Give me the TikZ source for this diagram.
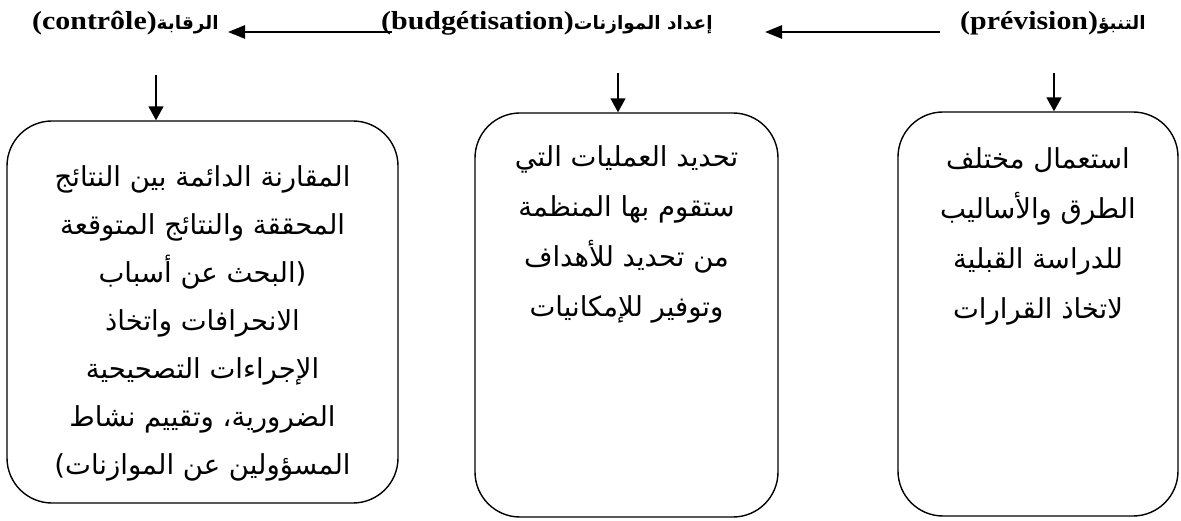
\documentclass[tikz,border=0pt]{standalone}
\usepackage{fontspec}
\setmainfont{Liberation Serif}
\newfontfamily\headfont[FakeStretch=1.15]{Liberation Serif}
\newfontfamily\arabicfont[Script=Arabic]{DejaVu Sans}
\TeXXeTstate=1
\usetikzlibrary{arrows.meta}

\tikzset{
  stagebox/.style={draw, line width=1.4pt, rounded corners=45pt, inner sep=0pt},
  stagetext/.style={anchor=north, inner sep=0pt, align=center,
    font=\arabicfont\fontsize{27.5}{48}\selectfont},
  heading/.style={anchor=base west, inner sep=0pt,
    font=\headfont\bfseries\fontsize{26}{30}\selectfont},
  flowarrow/.style={line width=2.6pt, -{Triangle[length=17pt,width=13pt]}},
  downarrow/.style={line width=1.5pt, -{Triangle[length=14pt,width=15pt]}},
}
\newcommand{\arhead}[1]{{\arabicfont\bfseries\fontsize{18.5}{20}\selectfont\beginR #1\endR}}
\newcommand{\rl}[1]{\beginR #1\endR}

\begin{document}
\begin{tikzpicture}[x=1pt, y=-1pt]
  \useasboundingbox (0,0) rectangle (1181,521);

  % stage headings along the top
  \node[heading] (hL) at (32,30) {(contrôle)\arhead{الرقابة}};
  \node[heading] (hM) at (381,30) {(budgétisation)\arhead{إعداد الموازنات}};
  \node[heading] (hR) at (960,30) {(prévision)\arhead{التنبؤ}};

  % the three stage boxes
  \node[stagebox, minimum width=391pt, minimum height=382pt] (lbox) at (202.5,312) {};
  \node[stagebox, minimum width=303pt, minimum height=404pt] (mbox) at (626.5,315) {};
  \node[stagebox, minimum width=280pt, minimum height=404pt] (rbox) at (1038,314) {};

  % box contents
  \node[stagetext] (ltext) at ([yshift=-45pt]lbox.north) {%
    \rl{المقارنة الدائمة بين النتائج}\\
    \rl{المحققة والنتائج المتوقعة}\\
    \rl{(البحث عن أسباب}\\
    \rl{الانحرافات واتخاذ}\\
    \rl{الإجراءات التصحيحية}\\
    \rl{الضرورية، وتقييم نشاط}\\
    \rl{المسؤولين عن الموازنات)}};
  \node[stagetext, font=\arabicfont\fontsize{27.5}{50}\selectfont] (mtext) at ([yshift=-33pt]mbox.north) {%
    \rl{تحديد العمليات التي}\\
    \rl{ستقوم بها المنظمة}\\
    \rl{من تحديد للأهداف}\\
    \rl{وتوفير للإمكانيات}};
  \node[stagetext, font=\arabicfont\fontsize{27.5}{50}\selectfont] (rtext) at ([yshift=-36pt]rbox.north) {%
    \rl{استعمال مختلف}\\
    \rl{الطرق والأساليب}\\
    \rl{للدراسة القبلية}\\
    \rl{لاتخاذ القرارات}};

  % sequence arrows between the headings
  \coordinate (mStart) at ([xshift=11pt]hM.base west);
  \coordinate (lEnd) at (228,32);
  \coordinate (rStart) at (940,32);
  \coordinate (mEnd) at (765,32);
  \draw[flowarrow] (mStart |- lEnd) -- (lEnd);
  \draw[flowarrow] (rStart) -- (mEnd);

  % arrows down into the boxes
  \coordinate (lTop) at (156,75);
  \coordinate (mTop) at (618,73);
  \coordinate (rTop) at (1054,73);
  \draw[downarrow] (lTop) -- (lTop |- lbox.north);
  \draw[downarrow] (mTop) -- (mTop |- mbox.north);
  \draw[downarrow] (rTop) -- (rTop |- rbox.north);
\end{tikzpicture}
\end{document}
